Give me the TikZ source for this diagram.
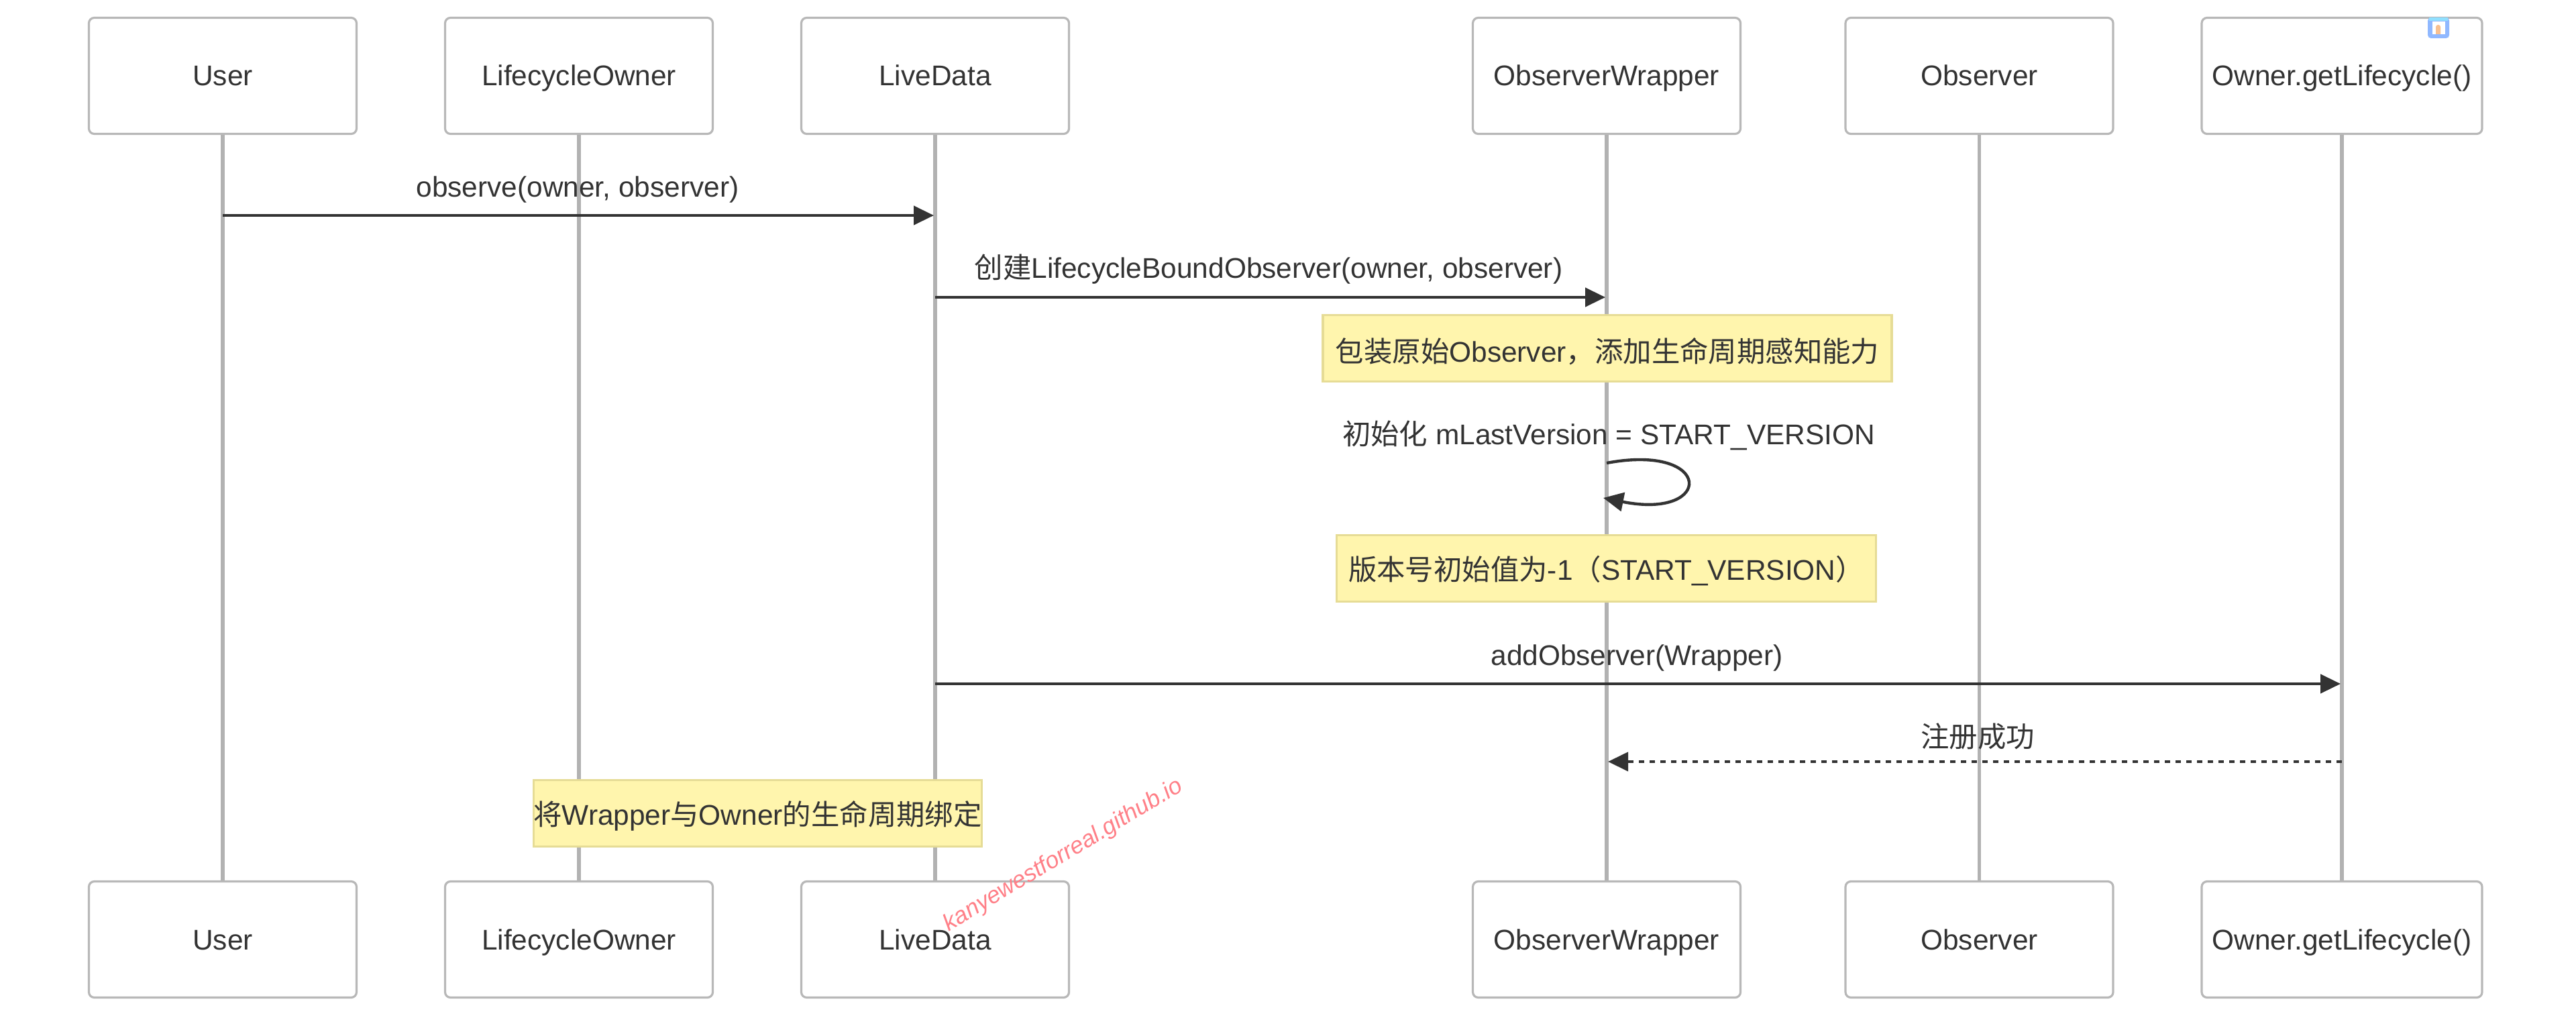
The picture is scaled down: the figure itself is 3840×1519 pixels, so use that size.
\documentclass[tikz,border=0pt]{standalone}
\usepackage{fontspec}
\setmainfont{Liberation Sans}
\newfontfamily\cjk{Noto Sans CJK SC}
\usetikzlibrary{arrows.meta}
\definecolor{ink}{HTML}{333333}
\definecolor{lifegray}{HTML}{B2B2B2}
\definecolor{boxline}{HTML}{B8B8B8}
\definecolor{notefill}{HTML}{FFF5AD}
\definecolor{noteline}{HTML}{E6DC96}
\definecolor{markred}{HTML}{FF8088}
\definecolor{iconblue}{HTML}{90B8FF}
\definecolor{iconcyan}{HTML}{90E0FF}
\definecolor{iconorange}{HTML}{F8C090}
\tikzset{
  x=0.25pt,y=-0.25pt,
  txt/.style={font=\fontsize{10.6pt}{12pt}\selectfont,text=ink,text height=7.5pt,text depth=0pt,inner sep=0pt,align=center},
  actor/.style={txt,draw=boxline,line width=0.8pt,rounded corners=2pt,fill=white,minimum width=99.75pt,minimum height=43.25pt},
  actorwide/.style={actor,minimum width=104.5pt},
  life/.style={draw=lifegray,line width=1.3pt},
  note/.style={txt,draw=noteline,fill=notefill,line width=0.8pt,minimum height=24.75pt,text height=8.5pt},
  msg/.style={draw=ink,line width=1.1pt,-{Triangle[length=7.5pt,width=7pt]}},
  straightmsg/.style={msg,shorten >=0.5pt},
  msgtext/.style={txt},
}
\begin{document}
\begin{tikzpicture}
\useasboundingbox (0,0) rectangle (3840,1519);
% actors
\node[actor] (uT) at (332,113) {User};
\node[actor] (lT) at (863,113) {LifecycleOwner};
\node[actor] (dT) at (1394,113) {LiveData};
\node[actor] (wT) at (2395,113) {ObserverWrapper};
\node[actor] (oT) at (2950.5,113) {Observer};
\node[actorwide] (gT) at (3491,113) {Owner.getLifecycle()};
\node[actor] (uB) at (332,1400) {User};
\node[actor] (lB) at (863,1400) {LifecycleOwner};
\node[actor] (dB) at (1394,1400) {LiveData};
\node[actor] (wB) at (2395,1400) {ObserverWrapper};
\node[actor] (oB) at (2950.5,1400) {Observer};
\node[actorwide] (gB) at (3491,1400) {Owner.getLifecycle()};
% lifelines
\draw[life] (uT) -- (uB);
\draw[life] (lT) -- (lB);
\draw[life] (dT) -- (dB);
\draw[life] (wT) -- (wB);
\draw[life] (oT) -- (oB);
\draw[life] (gT) -- (gB);
% message anchors
\coordinate (m1a) at (uT.south |- 0,321);
\coordinate (m1b) at (dT.south |- 0,321);
\coordinate (m2a) at (dT.south |- 0,443);
\coordinate (m2b) at (wT.south |- 0,443);
\coordinate (loopa) at (wT.south |- 0,690);
\coordinate (loopb) at ([xshift=-1.25pt]wT.south |- 0,742);
\coordinate (m4a) at (dT.south |- 0,1019);
\coordinate (m4b) at (gT.south |- 0,1019);
\coordinate (m5a) at (gT.south |- 0,1135);
\coordinate (m5b) at (wT.south |- 0,1135);
% messages
\draw[straightmsg] (m1a) -- (m1b);
\draw[straightmsg] (m2a) -- (m2b);
\draw[msg] (loopa) .. controls +(160,-30) and +(165,33) .. (loopb);
\draw[straightmsg] (m4a) -- (m4b);
\draw[straightmsg,dash pattern=on 2pt off 2pt] (m5a) -- (m5b);
% message labels
\node[msgtext] (t1) at (861,279) {observe(owner, observer)};
\node[msgtext] (t2) at (1891,399) {{\cjk 创建}LifecycleBoundObserver(owner, observer)};
\node[msgtext] (t3) at (2398,647) {{\cjk 初始化} mLastVersion = START\_VERSION};
\node[msgtext] (t4) at (2440,976) {addObserver(Wrapper)};
\node[msgtext] (t5) at (2948,1098) {{\cjk 注册成功}};
% notes
\node[note,minimum width=212pt,text height=10pt] (n1) at (2396,519) {{\cjk 包装原始}Observer{\cjk ，添加生命周期感知能力}};
\node[note,minimum width=201pt] (n2) at (2394.5,847) {{\cjk 版本号初始值为}-1{\cjk （}START\_VERSION{\cjk ）}};
\node[note,minimum width=165.5pt] (n3) at (1129.5,1212) {{\cjk 将}Wrapper{\cjk 与}Owner{\cjk 的生命周期绑定}};
% watermark
\node[font=\fontsize{8.8pt}{11pt}\selectfont\itshape,text=markred,inner sep=0pt,rotate=31] (wm) at (1585,1275) {kanyewestforreal.github.io};
% corner icon
\fill[iconblue,rounded corners=1.2pt] (3619,26) rectangle (3651,57);
\fill[iconcyan] (3621,26) rectangle (3649,31);
\fill[white] (3626,32) rectangle (3645,51);
\fill[iconorange,rounded corners=0.8pt] (3631,37) rectangle (3638,54);
\fill[iconblue] (3626,51) rectangle (3645,57);
\end{tikzpicture}
\end{document}
